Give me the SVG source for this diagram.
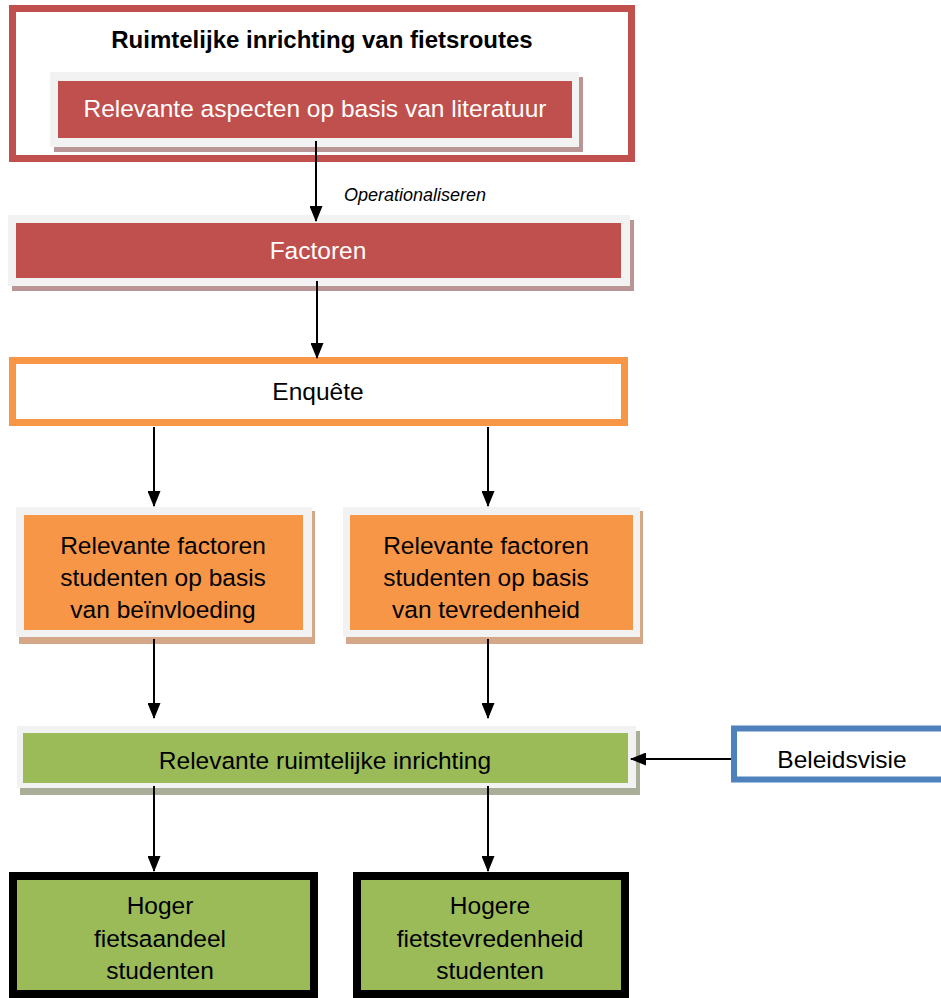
<svg xmlns="http://www.w3.org/2000/svg" width="941" height="998" viewBox="0 0 941 998">
<style>
text{font-family:"Liberation Sans",Arial,sans-serif;text-anchor:middle}
.w{fill:#ffffff;font-size:24.5px}
.b{fill:#000000;font-size:24.5px}
.g{fill:#f2f2f2}
.red{fill:#c0504d}
.rsh{fill:#b99596}
.org{fill:#f79646}
.osh{fill:#d3a788}
.grn{fill:#9bbb59}
.gsh{fill:#a8ae98}
.con{stroke:#000;stroke-width:2;fill:none;marker-end:url(#ah)}
</style>
<defs>
<marker id="ah" markerWidth="16" markerHeight="13" refX="15" refY="6.5" orient="auto" markerUnits="userSpaceOnUse" viewBox="0 0 16 13">
<path d="M0,0 L16,6.5 L0,13 Z" fill="#000"/>
</marker>
</defs>
<rect width="941" height="998" fill="#ffffff"/>
<g id="frame">
<rect x="12.5" y="8.5" width="619" height="150" fill="#fff" stroke="#c0504d" stroke-width="7"/>
<text x="322" y="48" style="font-weight:bold;font-size:24px" fill="#000">Ruimtelijke inrichting van fietsroutes</text>
</g>
<g id="aspecten">
<rect class="rsh" x="54" y="77" width="529" height="75"/>
<rect class="g" x="50" y="72" width="529" height="75"/>
<rect class="red" x="58" y="81" width="514" height="57"/>
<text class="w" x="315" y="117">Relevante aspecten op basis van literatuur</text>
</g>
<g id="factoren">
<rect class="rsh" x="12" y="220" width="622" height="71"/>
<rect class="g" x="8" y="215" width="622" height="71"/>
<rect class="red" x="16" y="223" width="605" height="55"/>
<text class="w" x="318" y="259">Factoren</text>
</g>
<g id="enquete">
<rect x="12.5" y="360.5" width="612" height="62" fill="#fff" stroke="#f79646" stroke-width="7"/>
<text class="b" x="318" y="400">Enquête</text>
</g>
<g id="beinvloeding">
<rect class="osh" x="19" y="511" width="296" height="133"/>
<rect class="g" x="16" y="507" width="296" height="130"/>
<rect class="org" x="24" y="515" width="279" height="115"/>
<text class="b" x="163" y="554">Relevante factoren</text>
<text class="b" x="163" y="586">studenten op basis</text>
<text class="b" x="163" y="618">van beïnvloeding</text>
</g>
<g id="tevredenheid">
<rect class="osh" x="346" y="511" width="297" height="133"/>
<rect class="g" x="343" y="507" width="297" height="130"/>
<rect class="org" x="350" y="515" width="283" height="115"/>
<text class="b" x="486" y="554">Relevante factoren</text>
<text class="b" x="486" y="586">studenten op basis</text>
<text class="b" x="486" y="618">van tevredenheid</text>
</g>
<g id="inrichting">
<rect class="gsh" x="20" y="731" width="620" height="64"/>
<rect class="g" x="17" y="726" width="619" height="62"/>
<rect class="grn" x="23" y="733" width="605" height="50"/>
<text class="b" x="325" y="769">Relevante ruimtelijke inrichting</text>
</g>
<g id="beleidsvisie">
<rect x="734" y="728.5" width="222" height="51" fill="#fff" stroke="#4f81bd" stroke-width="6"/>
<text class="b" x="842" y="768">Beleidsvisie</text>
</g>
<g id="fietsaandeel">
<rect x="13" y="876" width="301" height="118" fill="#9bbb59" stroke="#000" stroke-width="8"/>
<text class="b" x="160" y="914">Hoger</text>
<text class="b" x="160" y="947">fietsaandeel</text>
<text class="b" x="160" y="979">studenten</text>
</g>
<g id="fietstevredenheid">
<rect x="357" y="876" width="268" height="118" fill="#9bbb59" stroke="#000" stroke-width="8"/>
<text class="b" x="490" y="914">Hogere</text>
<text class="b" x="490" y="947">fietstevredenheid</text>
<text class="b" x="490" y="979">studenten</text>
</g>
<g id="connectors">
<line class="con" x1="316" y1="141" x2="316" y2="221"/>
<text x="415" y="201" style="font-style:italic;font-size:18px;fill:#000">Operationaliseren</text>
<line class="con" x1="317" y1="281" x2="317" y2="358"/>
<line class="con" x1="154" y1="427" x2="154" y2="506"/>
<line class="con" x1="488" y1="427" x2="488" y2="506"/>
<line class="con" x1="154" y1="639" x2="154" y2="718"/>
<line class="con" x1="488" y1="639" x2="488" y2="718"/>
<line class="con" x1="731" y1="759" x2="631" y2="759"/>
<line class="con" x1="154" y1="786" x2="154" y2="871"/>
<line class="con" x1="488" y1="786" x2="488" y2="871"/>
</g>
</svg>
